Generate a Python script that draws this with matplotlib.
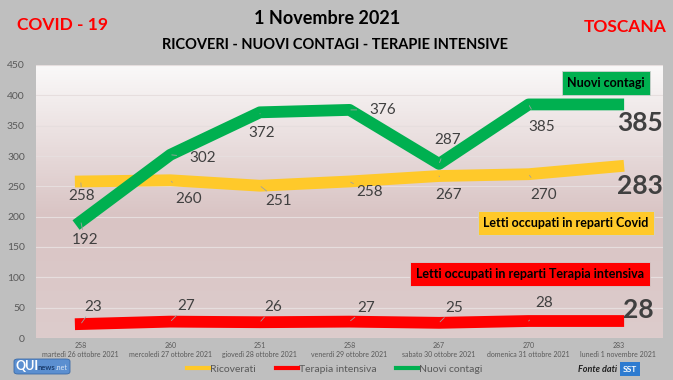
import numpy as np
import matplotlib.pyplot as plt
from matplotlib.lines import Line2D
from matplotlib.patches import FancyBboxPatch
from matplotlib.colors import LinearSegmentedColormap

plt.rcParams['font.family'] = ['Lato', 'DejaVu Sans']

# -- Data --
dates = ["martedì 26 ottobre 2021", "mercoledì 27 ottobre 2021", "giovedì 28 ottobre 2021",
         "venerdì 29 ottobre 2021", "sabato 30 ottobre 2021", "domenica 31 ottobre 2021",
         "lunedì 1 novembre 2021"]
ricoverati = [258, 260, 251, 258, 267, 270, 283]
terapia = [23, 27, 26, 27, 25, 28, 28]
contagi = [192, 302, 372, 376, 287, 385, 385]

# label offsets in pixels (dx right, dy down)
off_contagi = [(4, 18), (32, 3), (2, 21), (33, 0), (9, -24), (13, 23)]
off_ricov = [(1, 15), (18, 19), (19, 15), (20, 11), (10, 19), (15, 21)]
off_terapia = [(12, -17), (16, -16), (13, -15), (17, -14), (15, -15), (16, -18)]

GREEN = "#00b050"
YELLOW = "#ffc92a"
RED = "#ff0000"
GRAY_TXT = "#595959"

fig = plt.figure(figsize=(6.73, 3.80), dpi=100)
fig.patch.set_facecolor("#bfbfbf")
ax = fig.add_axes([36/673, 42/380, 627/673, 273/380])

# -- gradient background --
cmap = LinearSegmentedColormap.from_list("bg", [(0, "#faf9f9"), (0.55, "#d9c4c4"), (1, "#ddcccc")])
grad = np.linspace(0, 1, 256).reshape(-1, 1)
ax.imshow(grad, cmap=cmap, aspect="auto", extent=[0, 1, 0, 1], transform=ax.transAxes, zorder=0)

x = np.arange(len(dates))
ax.plot(x, ricoverati, color=YELLOW, lw=8.5, solid_capstyle="projecting", zorder=3)
ax.plot(x, terapia, color=RED, lw=8.5, solid_capstyle="projecting", zorder=3)
ax.plot(x, contagi, color=GREEN, lw=8.5, solid_capstyle="projecting", zorder=4)

ax.set_xlim(-0.5, 6.5)
ax.set_ylim(0, 450)
ax.set_yticks(range(0, 451, 50))
ax.grid(axis="y", color="#e6dede", lw=0.8, zorder=1)
ax.set_axisbelow(True)
for s in ax.spines.values():
    s.set_visible(False)
ax.tick_params(axis="y", length=0, labelsize=7.5, labelcolor=GRAY_TXT, pad=8)
ax.set_xticks(x)
ax.set_xticklabels([f"{r}\n{d}" for r, d in zip(ricoverati, dates)], fontsize=5,
                   color=GRAY_TXT, linespacing=1.35)
ax.tick_params(axis="x", length=0, pad=3)


def label(series, offs):
    for i, (dx, dy) in enumerate(offs):
        ax.annotate(str(series[i]), (x[i], series[i]), xytext=(dx*0.72, -dy*0.72),
                    textcoords="offset points", ha="center", va="center",
                    fontsize=11, color="#404040", zorder=6,
                    arrowprops=dict(arrowstyle="-", color="#a0a0a0", lw=0.6,
                                    shrinkA=7, shrinkB=1))


label(contagi, off_contagi)
label(ricoverati, off_ricov)
label(terapia, off_terapia)

# big final labels
big = dict(fontsize=19, fontweight="bold", color="#404040", ha="center", va="center")
fig.text(640/673, 1-123/380, str(contagi[-1]), **big)
fig.text(640/673, 1-186/380, str(ricoverati[-1]), **big)
fig.text(638/673, 1-310/380, str(terapia[-1]), **big)

# boxes
fig.text(606/673, 1-83/380, "Nuovi contagi", fontsize=9, fontweight="bold", ha="center", va="center",
         bbox=dict(boxstyle="square,pad=0.45", fc=GREEN, ec="#d0d0d0", lw=0.6))
fig.text(566/673, 1-223/380, "Letti occupati in reparti Covid", fontsize=9, fontweight="bold",
         ha="center", va="center",
         bbox=dict(boxstyle="square,pad=0.45", fc=YELLOW, ec="#d0d0d0", lw=0.6))
fig.text(530/673, 1-274/380, "Letti occupati in reparti Terapia intensiva", fontsize=9,
         fontweight="bold", ha="center", va="center",
         bbox=dict(boxstyle="square,pad=0.45", fc=RED, ec="#d0d0d0", lw=0.6))

# titles
fig.text(62/673, 1-25/380, "COVID - 19", color=RED, fontsize=12.5, fontweight="bold", ha="center", va="center")
fig.text(625/673, 1-27/380, "TOSCANA", color=RED, fontsize=12.5, fontweight="bold", ha="center", va="center")
fig.text(327/673, 1-19/380, "1 Novembre 2021", fontsize=13, fontweight="bold", ha="center", va="center")
fig.text(335/673, 1-45/380, "RICOVERI - NUOVI CONTAGI - TERAPIE INTENSIVE", fontsize=10.5,
         fontweight="bold", ha="center", va="center")

# legend
handles = [Line2D([], [], color=YELLOW, lw=3), Line2D([], [], color=RED, lw=3),
           Line2D([], [], color=GREEN, lw=3)]
fig.legend(handles, ["Ricoverati", "Terapia intensiva", "Nuovi contagi"], ncol=3,
           loc="center", bbox_to_anchor=(335/673, 1-369/380), frameon=False,
           fontsize=7.5, labelcolor=GRAY_TXT, handlelength=2.1, handletextpad=0.1,
           columnspacing=1.9, borderpad=0)

# logos (approximations)
fig.patches.append(FancyBboxPatch((14/673, 1-374/380), 56/673, 15/380,
                                  boxstyle="round,pad=0,rounding_size=0.006",
                                  transform=fig.transFigure, fc="#5b8fd0", ec="#3a6aa8", lw=0.6))
fig.text(16/673, 1-366/380, "QUI", fontsize=9, fontweight="bold", color="white", va="center")
fig.text(38/673, 1-367/380, "news", fontsize=5.5, fontweight="bold", color="#1c3f70", va="center")
fig.text(56/673, 1-367/380, ".net", fontsize=5, color="#dde8f5", va="center")
fig.text(578/673, 1-369/380, "Fonte dati", fontsize=6.5, fontweight="bold", style="italic",
         color="#202020", va="center")
fig.text(630/673, 1-369/380, "SST", fontsize=6, fontweight="bold", color="white", ha="center", va="center",
         bbox=dict(boxstyle="square,pad=0.4", fc="#2e7bd0", ec="none"))

fig.savefig("out.png", dpi=100, facecolor=fig.get_facecolor())
